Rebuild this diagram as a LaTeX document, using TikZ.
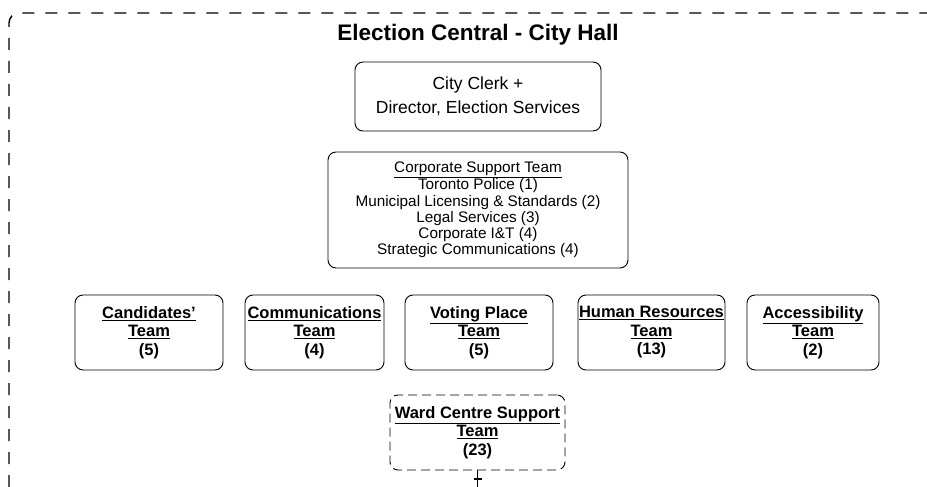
\documentclass[tikz,border=0pt]{standalone}
\usepackage{fontspec}
\setmainfont{Liberation Sans}
\usetikzlibrary{arrows.meta}
\begin{document}
\begin{tikzpicture}[x=1pt,y=-1pt,
  frame/.style={line width=1.4pt, dash pattern=on 12pt off 11pt, rounded corners=10pt},
  box/.style={draw, line width=0.9pt, rounded corners=8pt, align=center, inner sep=0pt},
  team/.style={box, minimum width=#1, minimum height=75pt, font=\fontsize{16.5}{18.5}\selectfont\bfseries},
  conn/.style={line width=1pt}
  ]
\useasboundingbox (0,0) rectangle (927,487);
\draw[frame] (9,487) -- (9,13) -- (927,13);
\node[font=\fontsize{22.5}{26}\selectfont\bfseries] (title) at (478,35) {Election Central - City Hall};
\node[box, minimum width=246pt, minimum height=69pt, font=\fontsize{17.5}{24}\selectfont] (clerk) at (478,96.5) {City Clerk +\\Director, Election Services};
\node[box, minimum width=300pt, minimum height=116pt, font=\fontsize{15.3}{16.2}\selectfont] (corp) at (478,210)
  {\underline{Corporate Support Team}\\Toronto Police (1)\\Municipal Licensing \& Standards (2)\\Legal Services (3)\\Corporate I\&T (4)\\Strategic Communications (4)};
\node[team=148pt] (cand) at (149,332.5) {\underline{Candidates'}\\\underline{Team}\\(5)};
\node[team=139pt] (comm) at (314.5,332.5) {\underline{Communications}\\\underline{Team}\\(4)};
\node[team=148pt] (vote) at (479,332.5) {\underline{Voting Place}\\\underline{Team}\\(5)};
\node[team=147pt] (hr) at (651.5,332.5) {\underline{Human Resources}\\\underline{Team}\\(13)};
\node[team=132pt] (acc) at (813,332.5) {\underline{Accessibility}\\\underline{Team}\\(2)};
\node[team=175pt, dash pattern=on 9pt off 5pt] (ward) at (477.5,432.5) {\underline{Ward Centre Support}\\\underline{Team}\\(23)};
\coordinate (wardtick) at (477.5,479);
\coordinate (wardend) at (477.5,487);
\draw[conn] (ward.south) -- (wardtick) -- (wardend);
\draw[line width=1.6pt] ([xshift=-4pt]wardtick) -- ([xshift=4pt]wardtick);
\end{tikzpicture}
\end{document}
